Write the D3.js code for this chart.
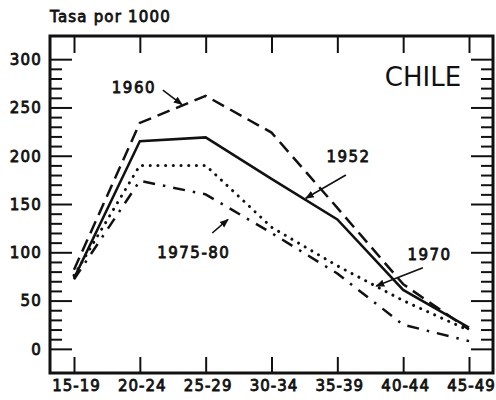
<!DOCTYPE html>
<html>
<head>
<meta charset="utf-8">
<script src="https://cdn.jsdelivr.net/npm/d3@7"></script>
<style>
  body { margin: 0; background: #fff; }
  svg { display: block; }
  text { font-family: 'DejaVu Sans', sans-serif; fill: #111; }
</style>
</head>
<body>
<div id="chart"></div>
<script>
const AGES = ['15-19', '20-24', '25-29', '30-34', '35-39', '40-44', '45-49'];
const Y_LABELS = [0, 50, 100, 150, 200, 250, 300];

const RATE_1952 = [73, 215, 219, 176, 134, 61, 22];
const RATE_1960 = [82, 234, 262, 224, 146, 67, 20];
const RATE_1970 = [76, 190, 190, 126, 86, 50, 19];
const RATE_1975 = [72, 174, 160, 120, 78, 25, 8];

const SERIES = [
  { name: '1960', values: RATE_1960, dash: '13,7', cap: 'butt' },
  { name: '1952', values: RATE_1952, dash: null, cap: 'butt' },
  { name: '1970', values: RATE_1970, dash: '0.1,7.6', cap: 'round' },
  { name: '1975-80', values: RATE_1975, dash: '12,8,2.5,8', cap: 'butt' },
];

// labels in data space: f = fractional age index, v = rate
const NOTES = [
  { text: '1960', f: 0.91, v: 265, from: [1.35, 268], to: [1.64, 253] },
  { text: '1952', f: 4.17, v: 193, from: [4.13, 180], to: [3.52, 156] },
  { text: '1975-80', f: 1.82, v: 94, from: [2.1, 120], to: [2.34, 134] },
  { text: '1970', f: 5.4, v: 92, from: [5.3, 84], to: [4.59, 65] },
];

const W = 496, H = 400;
const frame = { left: 50, top: 36, right: 493, bottom: 373 };

const svg = d3.select('#chart').append('svg')
  .attr('width', W).attr('height', H);

const x = d3.scalePoint().domain(AGES).range([74, 469]);
const xi = d3.scaleLinear().domain([0, AGES.length - 1]).range([74, 469]);
const y = d3.scaleLinear().domain([-25, 324]).range([frame.bottom, frame.top]);

svg.append('defs').append('marker')
  .attr('id', 'head')
  .attr('viewBox', '0 0 10 10')
  .attr('refX', 9).attr('refY', 5)
  .attr('markerWidth', 9).attr('markerHeight', 9)
  .attr('markerUnits', 'userSpaceOnUse')
  .attr('orient', 'auto')
  .append('path').attr('d', 'M0,1 L10,5 L0,9 Z').attr('fill', '#111');

// minor ticks every 10, major every 50
const yTicks = d3.range(0, 310, 10);
const tickLen = d => (d % 50 === 0 ? 22 : 12);

const leftTicks = svg.append('g')
  .attr('transform', `translate(${frame.left},0)`)
  .call(d3.axisRight(y).tickValues(yTicks).tickSize(22).tickFormat(''));
leftTicks.selectAll('.tick line').attr('x2', tickLen);

const rightTicks = svg.append('g')
  .attr('transform', `translate(${frame.right},0)`)
  .call(d3.axisLeft(y).tickValues(yTicks).tickSize(22).tickFormat(''));
rightTicks.selectAll('.tick line').attr('x2', d => -tickLen(d));

const yLabels = svg.append('g')
  .attr('transform', `translate(${frame.left - 1},0)`)
  .call(d3.axisLeft(y).tickValues(Y_LABELS).tickSize(0).tickPadding(7));
yLabels.selectAll('text').attr('dy', '0.36em').attr('letter-spacing', 1.2);

svg.append('g')
  .attr('transform', `translate(0,${frame.top})`)
  .call(d3.axisBottom(x).tickSize(17).tickFormat(''));

svg.append('g')
  .attr('transform', `translate(0,${frame.bottom})`)
  .call(d3.axisTop(x).tickSize(16).tickFormat(''));

const xLabels = svg.append('g')
  .attr('transform', `translate(2,${frame.bottom})`)
  .call(d3.axisBottom(x).tickSize(0).tickPadding(7));
xLabels.selectAll('text').attr('letter-spacing', 1);

svg.selectAll('.domain').remove();
svg.selectAll('.tick line').attr('stroke', '#111').attr('stroke-width', 2);
svg.selectAll('.tick text')
  .attr('font-family', "'DejaVu Sans', sans-serif")
  .attr('font-size', 15).attr('fill', '#111')
  .attr('stroke', '#111').attr('stroke-width', 0.8);

svg.append('rect')
  .attr('x', frame.left).attr('y', frame.top)
  .attr('width', frame.right - frame.left)
  .attr('height', frame.bottom - frame.top)
  .attr('fill', 'none').attr('stroke', '#111').attr('stroke-width', 3);

const line = d3.line()
  .x((d, i) => x(AGES[i]))
  .y(d => y(d));

svg.append('g').selectAll('path')
  .data(SERIES)
  .join('path')
  .attr('d', d => line(d.values))
  .attr('fill', 'none')
  .attr('stroke', '#111')
  .attr('stroke-width', d => (d.cap === 'round' ? 3 : 2.5))
  .attr('stroke-linecap', d => d.cap)
  .attr('stroke-dasharray', d => d.dash);

const notes = svg.append('g');
notes.selectAll('line')
  .data(NOTES)
  .join('line')
  .attr('x1', d => xi(d.from[0])).attr('y1', d => y(d.from[1]))
  .attr('x2', d => xi(d.to[0])).attr('y2', d => y(d.to[1]))
  .attr('stroke', '#111').attr('stroke-width', 1.6)
  .attr('marker-end', 'url(#head)');

notes.selectAll('text')
  .data(NOTES)
  .join('text')
  .attr('x', d => xi(d.f)).attr('y', d => y(d.v))
  .attr('text-anchor', 'middle')
  .attr('font-size', 15).attr('letter-spacing', 1.5)
  .attr('stroke', '#111').attr('stroke-width', 0.8)
  .text(d => d.text);

svg.append('text')
  .attr('x', xi(5.88)).attr('y', y(272))
  .attr('text-anchor', 'end')
  .attr('font-size', 26)
  .text('CHILE');

svg.append('text')
  .attr('x', frame.left).attr('y', 22)
  .attr('font-size', 15).attr('letter-spacing', 1.2)
  .attr('stroke', '#111').attr('stroke-width', 0.8)
  .text('Tasa por 1000');
</script>
</body>
</html>
